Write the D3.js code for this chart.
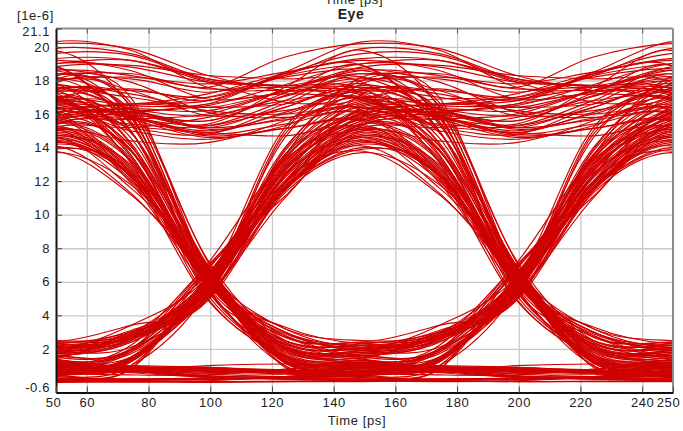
<!DOCTYPE html>
<html>
<head>
<meta charset="utf-8">
<script src="https://cdn.jsdelivr.net/npm/d3@7"></script>
<style>
    body { margin: 0; background: #fff; }
    text { font-family: "Liberation Sans", Arial, sans-serif; fill: #222; letter-spacing: 0.6px; }
</style>
</head>
<body>
<div id="chart-area"></div>
<script>

// time axis ticks (ps) and level ticks (1e-6)
var timeTicks = [50, 60, 80, 100, 120, 140, 160, 180, 200, 220, 240, 250];
var timeGrid = [60, 80, 100, 120, 140, 160, 180, 200, 220, 240];
var levelTicks = [-0.6, 2, 4, 6, 8, 10, 12, 14, 16, 18, 20, 21.1];
var levelGrid = [2, 4, 6, 8, 10, 12, 14, 16, 18, 20];

// one bit period (ps) and sample spacing of the waveform below
var bitPeriod = 100;
var sampleStep = 25;

// received waveform, 4 samples per bit: centre, +25ps, bit edge, +75ps
var waveform = [
    0.05, 0.05, 0.05, 0.0,    0.0, 0.02, 0.0, 0.05,    0.1, 0.08, 0.05, 0.05,
    0.05, 0.12, 0.2, 0.35,    0.5, 1.3, 5.9, 13.0,     16.2, 15.8, 15.0, 16.0,
    17.0, 13.2, 6.2, 3.0,     1.9, 2.7, 5.7, 11.5,     14.4, 12.3, 6.4, 1.2,
    0.9, 0.8, 0.7, 0.65,      0.6, 1.4, 6.0, 12.6,     15.8, 16.3, 16.2, 17.4,
    18.6, 18.3, 17.5, 17.6,   17.4, 16.2, 6.5, 1.2,    1.0, 0.68, 0.35, 0.25,
    0.15, 0.2, 0.25, 0.33,    0.4, 1.2, 5.6, 11.6,     14.8, 12.5, 6.1, 2.3,
    2.0, 2.8, 5.8, 13.3,      16.5, 15.9, 14.8, 15.4,  16.0, 12.2, 6.3, 2.0,
    1.7, 2.5, 6.0, 12.4,      15.6, 15.7, 15.3, 16.4,  17.8, 15.5, 6.7, 2.2,
    1.1, 0.95, 0.8, 0.75,     0.7, 1.5, 5.5, 11.5,     14.2, 12.3, 5.9, 2.5,
    2.2, 2.5, 6.2, 12.3,      17.2, 17.4, 17.0, 18.3,  19.9, 19.6, 18.1, 17.7,
    17.6, 17.0, 16.4, 17.4,   18.4, 17.0, 6.6, 1.0,    0.8, 0.72, 0.65, 0.58,
    0.5, 1.3, 5.8, 13.6,      16.8, 15.7, 14.6, 15.15, 15.7, 13.4, 6.0, 1.9,
    1.6, 2.4, 5.4, 11.8,      15.0, 12.7, 6.3, 1.5,    1.2, 0.8, 0.4, 0.3,
    0.2, 0.12, 0.05, 0.08,    0.1, 0.15, 0.2, 0.33,    0.45, 1.25, 5.7, 12.8,
    16.0, 16.1, 15.6, 17.25,  18.9, 15.0, 6.8, 2.4,    2.1, 2.9, 6.1, 15.2,
    17.5, 16.3, 15.1, 15.75,  16.4, 14.1, 6.2, 1.2,    0.9, 0.82, 0.75, 0.68,
    0.6, 1.4, 5.6, 11.6,      14.6, 12.3, 6.0, 2.1,    1.8, 2.6, 5.9, 11.5,
    14.0, 12.3, 5.8, 2.3,     2.0, 2.8, 6.1, 12.7,     15.9, 16.6, 16.8, 18.5,
    20.3, 19.8, 17.6, 17.4,   17.2, 13.5, 6.4, 1.4,    1.1, 0.9, 0.7, 0.62,
    0.55, 1.35, 5.5, 13.8,    17.0, 15.85, 14.7, 15.15, 15.6, 13.3, 6.1, 1.15,
    0.85, 0.58, 0.3, 0.2,     0.1, 0.15, 0.2, 0.35,    0.5, 1.3, 5.8, 11.7,
    14.9, 12.6, 6.0, 2.2,     1.9, 3.4, 6.3, 13.4,     16.6, 16.25, 15.9, 17.05,
    18.2, 15.9, 6.5, 3.2,     2.1, 2.9, 5.7, 12.0,     15.2, 12.9, 6.2, 1.3,
    1.0, 0.92, 0.85, 0.75,    0.65, 1.45, 5.9, 12.3,   15.5, 16.05, 16.6, 17.3,
    18.0, 18.2, 17.8, 18.5,   19.2, 18.6, 16.9, 17.2,  16.9, 15.8, 6.4, 1.9,
    1.6, 2.4, 5.6, 11.5,      14.3, 12.3, 6.0, 2.5,    2.2, 3.0, 6.1, 13.1,
    16.3, 16.0, 15.4, 17.6,   19.8, 16.4, 6.7, 1.5,    1.2, 0.95, 0.7, 0.7,
    0.7, 1.5, 5.8, 11.9,      15.1, 12.8, 6.2, 1.25,   0.95, 0.88, 0.8, 0.7,
    0.6, 1.0, 5.4, 15.0,      17.4, 16.3, 15.2, 15.65, 16.1, 13.8, 6.1, 2.1,
    1.8, 2.6, 6.0, 12.2,      15.4, 15.7, 16.0, 17.4,  18.8, 18.9, 18.3, 18.1,
    17.9, 14.3, 6.6, 1.2,     0.9, 0.65, 0.4, 0.3,     0.2, 0.22, 0.25, 0.35,
    0.45, 1.25, 5.7, 11.6,    14.5, 12.4, 6.2, 2.0,    1.7, 2.5, 5.9, 13.5,
    16.7, 15.8, 14.9, 16.1,   17.3, 15.0, 6.3, 3.0,    2.0, 2.8, 6.0, 11.5,
    14.7, 12.4, 6.1, 1.4,     1.1, 0.92, 0.75, 0.62,   0.5, 1.3, 5.8, 12.6,
    15.8, 16.15, 16.5, 17.75, 19.0, 18.8, 17.9, 17.7,  17.5, 14.2, 5.4, 2.8,
    1.6, 2.0, 6.9, 12.0,      15.3, 15.9, 15.6, 17.1,  18.1, 16.7, 7.2, 1.6,
    1.4, 3.0, 5.0, 12.0,      13.8, 11.2, 6.6, 2.7,    2.4, 2.7, 5.3, 14.8,
    16.9, 17.5, 16.8, 18.4,   19.3, 19.2, 17.9, 16.7,  16.2, 12.4, 4.9, 1.6,
    0.7, 0.6, 0.9, 0.55,      0.35, 0.8, 6.8, 11.1,    15.4, 13.8, 5.6, 1.5,
    1.3, 0.9, 0.6, 0.7,       0.9, 2.2, 7.1, 13.3,     15.1, 14.4, 14.3, 15.6,
    17.7, 15.6, 6.0, 3.3,     2.3, 2.6, 5.1, 11.4,     14.6, 11.6, 6.9, 1.5,
    1.2, 1.8, 5.5, 13.9,      17.8, 18.1, 17.3, 18.2,  18.7, 17.9, 16.1, 15.8,
    16.4, 14.9, 7.0, 1.5,     1.3, 0.7, 0.3, 0.25,     0.25, 0.2, 0.15, 0.3,
    0.6, 1.9, 5.2, 11.6,      16.4, 15.3, 14.9, 14.7,  15.2, 12.1, 6.4, 3.2,
    2.5, 2.8, 4.9, 11.3,      13.7, 11.8, 6.7, 0.9,    0.5, 0.7, 1.0, 1.1,
    1.0, 1.4, 5.8, 14.6,      18.0, 18.4, 17.6, 19.4,  20.2, 19.9, 18.3, 17.4,
    17.1, 13.6, 5.2, 1.8,     1.5, 2.9, 6.5, 12.7,     15.4, 13.9, 5.7, 2.4,
    1.4, 0.8, 0.5, 0.35,      0.3, 1.0, 6.3, 13.2,     15.7, 16.1, 15.2, 16.6,
    18.4, 16.5, 7.3, 2.5,     2.3, 3.0, 5.0, 11.9,     14.1, 11.3, 6.2, 2.1,
    1.3, 1.7, 5.4, 12.4,      16.1, 15.0, 14.5, 15.3,  17.0, 13.9, 6.6, 1.8,
    1.2, 0.95, 0.8, 0.6,      0.4, 1.4, 5.9, 14.0,     17.4, 17.2, 16.2, 16.0,
    16.6, 16.5, 17.0, 18.3,   19.0, 19.2, 18.1, 17.7,  18.2, 15.4, 6.9, 1.3,
    0.6, 0.45, 0.45, 0.8,     1.1, 1.5, 5.1, 11.0,     15.0, 13.2, 6.0, 2.9,
    2.1, 3.1, 5.3, 12.8,      15.2, 15.2, 15.8, 16.8,  16.9, 14.1, 6.8, 1.7,
    1.4, 0.75, 0.35, 0.2,     0.1, 0.05, 0.1, 0.35,    0.8, 2.0, 6.1, 13.6,
    16.0, 16.6, 16.4, 16.6,   17.6, 16.0, 5.5, 2.1,    1.6, 1.9, 6.7, 12.5,
    14.4, 12.0, 5.9, 2.7,     2.4, 3.4, 4.9, 13.5,     18.2, 17.4, 15.9, 16.2,
    17.0, 16.6, 17.2, 18.4,   18.9, 15.0, 6.2, 2.8,    1.5, 2.0, 6.8, 11.6,
    13.9, 12.6, 5.6, 1.0,     0.8, 0.65, 0.7, 0.5,     0.4, 0.8, 6.4, 12.0,
    16.3, 15.2, 14.8, 16.4,   17.3, 13.1, 5.0, 1.6,    1.1, 1.0, 0.9, 0.7,
    0.5, 1.9, 5.7, 12.4,      14.7, 13.0, 6.6, 2.0,    1.8, 2.1, 5.2, 13.0,
    15.6, 16.4, 16.6, 18.4,   19.6, 19.5, 18.0, 17.6,  16.8, 14.6, 6.3, 3.0,
    2.2, 2.6, 7.0, 11.5,      15.3, 11.9, 5.5, 1.3,    1.0, 0.7, 0.55, 0.5,
    0.6, 1.8, 6.0, 13.4,      15.9, 15.4, 15.3, 16.8,  18.6, 15.8, 6.9, 2.2,
    1.9, 2.7, 5.4, 12.9,      16.1, 16.9, 16.9, 17.6,  18.0, 18.0, 17.5, 17.8
];

var margin = { left: 56, right: 10, top: 28.5, bottom: 38.5 };

var width = 683 - margin.left - margin.right,
    height = 431 - margin.top - margin.bottom;

var svg = d3.select("#chart-area")
    .append("svg")
        .attr("width", width + margin.left + margin.right)
        .attr("height", height + margin.top + margin.bottom);

var g = svg.append("g")
        .attr("transform", "translate(" + margin.left + ", " + margin.top + ")");

var x = d3.scaleLinear().domain([50, 250]).range([0, width]);
var y = d3.scaleLinear().domain([-0.6, 21.1]).range([height, 0]);

// grid
g.append("g")
    .attr("class", "grid")
    .call(d3.axisBottom(x).tickValues(timeGrid).tickSize(height).tickFormat(""))
    .call(gr => gr.select(".domain").remove())
    .selectAll("line")
        .attr("stroke", "#c9c9c9")
        .attr("stroke-width", 1.3);

g.append("g")
    .attr("class", "grid")
    .call(d3.axisLeft(y).tickValues(levelGrid).tickSize(-width).tickFormat(""))
    .call(gr => gr.select(".domain").remove())
    .selectAll("line")
        .attr("stroke", "#c9c9c9")
        .attr("stroke-width", 1.3);

// eye traces: fold the waveform into 2-bit windows, one per bit
g.append("clipPath")
    .attr("id", "plot-clip")
    .append("rect")
        .attr("width", width)
        .attr("height", height);

var perBit = bitPeriod / sampleStep;
var traces = [];
for (var i = 1; i * perBit + 2 * perBit + 2 <= waveform.length; i++) {
    var start = i * perBit - 1;
    var pts = waveform.slice(start, start + 2 * perBit + 3).map(function(v, k) {
        return { t: 25 + k * sampleStep, v: v };
    });
    traces.push(pts);
}

var line = d3.line()
    .x(d => x(d.t - 0.8))
    .y(d => y(d.v))
    .curve(d3.curveCatmullRom.alpha(0));

g.append("g")
    .attr("clip-path", "url(#plot-clip)")
    .selectAll("path")
    .data(traces)
    .enter()
    .append("path")
        .attr("d", line)
        .attr("fill", "none")
        .attr("stroke", "#cf0000")
        .attr("stroke-width", 1.15);

// frame: grey top/right, black left/bottom
g.append("line").attr("x1", 0).attr("x2", width).attr("y1", 0).attr("y2", 0)
    .attr("stroke", "#8c8c8c").attr("stroke-width", 2);
g.append("line").attr("x1", width).attr("x2", width).attr("y1", 0).attr("y2", height)
    .attr("stroke", "#8c8c8c").attr("stroke-width", 2);

// Y Axis
var yAxisCall = d3.axisLeft(y)
    .tickValues(levelTicks)
    .tickSizeInner(-6)
    .tickSizeOuter(0)
    .tickPadding(6)
    .tickFormat(d => d);

var yAxisGroup = g.append("g")
    .attr("class", "y axis")
    .call(yAxisCall);

// X Axis
var xAxisCall = d3.axisBottom(x)
    .tickValues(timeTicks)
    .tickSizeInner(-6)
    .tickSizeOuter(0)
    .tickPadding(5)
    .tickFormat(d => d);

var xAxisGroup = g.append("g")
    .attr("class", "x axis")
    .attr("transform", "translate(0," + height + ")")
    .call(xAxisCall);

// top ticks
g.append("g")
    .call(d3.axisTop(x).tickValues(timeGrid).tickSizeInner(-5).tickSizeOuter(0).tickFormat(""))
    .call(gr => gr.select(".domain").remove())
    .selectAll("line").attr("stroke", "#555");

[xAxisGroup, yAxisGroup].forEach(function(ax) {
    ax.select(".domain").attr("stroke", "#111").attr("stroke-width", 2);
    ax.selectAll(".tick line").attr("stroke", "#444");
    ax.selectAll(".tick text")
        .attr("font-size", "13px")
        .attr("fill", "#222")
        .attr("font-family", "Liberation Sans, Arial, sans-serif");
});

// end labels sit inside the range
yAxisGroup.selectAll(".tick text")
    .filter(d => d === 21.1).attr("dy", "0.55em");
yAxisGroup.selectAll(".tick text")
    .filter(d => d === -0.6).attr("dy", "-0.05em");
xAxisGroup.selectAll(".tick text")
    .filter(d => d === 250).attr("dx", -5);
xAxisGroup.selectAll(".tick text")
    .filter(d => d === 50).attr("dx", -3);

// labels
svg.append("text")
    .attr("x", 354)
    .attr("y", 4)
    .attr("text-anchor", "middle")
    .attr("font-size", "13px")
    .text("Time [ps]");

svg.append("text")
    .attr("x", 351)
    .attr("y", 19)
    .attr("text-anchor", "middle")
    .attr("font-size", "14px")
    .attr("font-weight", "bold")
    .text("Eye");

svg.append("text")
    .attr("x", 17)
    .attr("y", 20)
    .attr("font-size", "13px")
    .text("[1e-6]");

svg.append("text")
    .attr("x", 357)
    .attr("y", 425)
    .attr("text-anchor", "middle")
    .attr("font-size", "13px")
    .text("Time [ps]");

</script>
</body>
</html>
